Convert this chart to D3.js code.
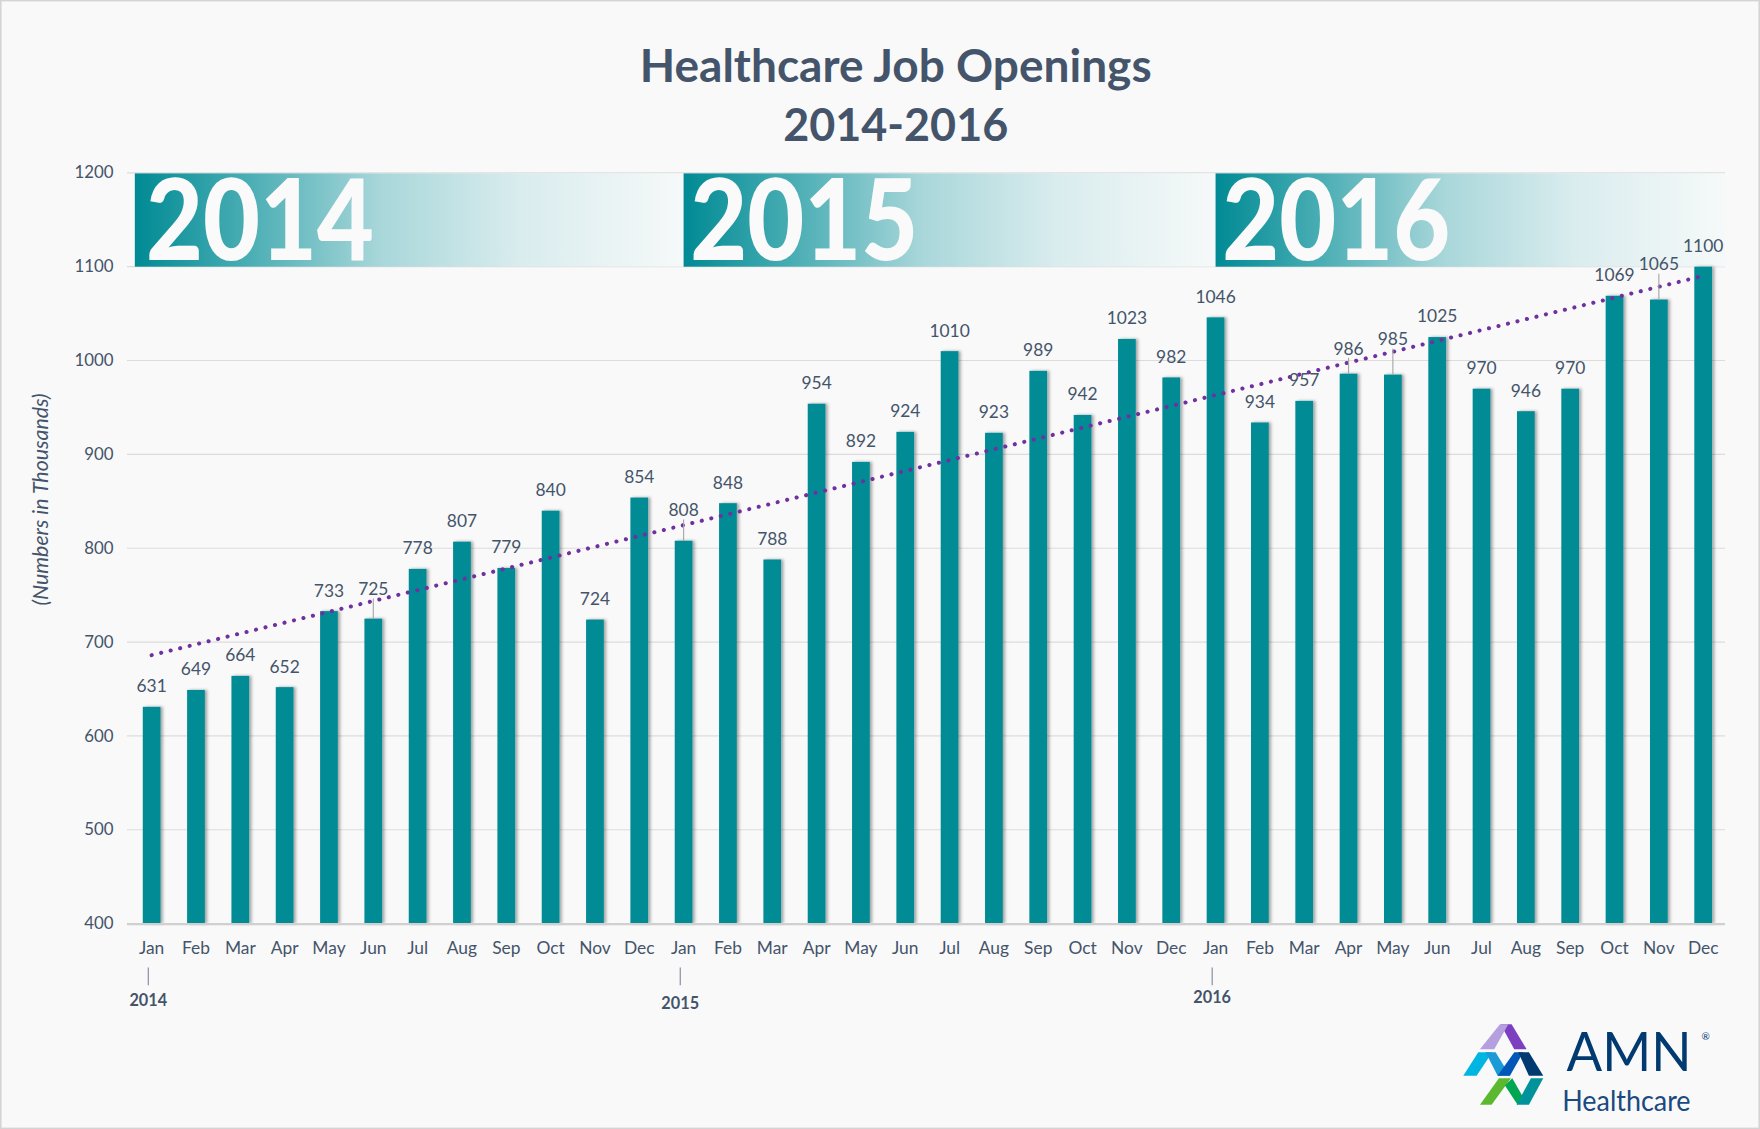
<!DOCTYPE html>
<html>
  <head>
    <meta charset="utf-8">
    <script src="https://cdn.jsdelivr.net/npm/d3@7/dist/d3.min.js"></script>
    <style>
      body { margin: 0; background: #f9f9f9; }
      text { font-family: Lato, "Open Sans", sans-serif; }
    </style>
  </head>
  <body>
    <script>
        // data (numbers in thousands)
        var months = ["Jan", "Feb", "Mar", "Apr", "May", "Jun", "Jul", "Aug", "Sep", "Oct", "Nov", "Dec"];
        var years = ["2014", "2015", "2016"];
        var jobs2014 = [631, 649, 664, 652, 733, 725, 778, 807, 779, 840, 724, 854];
        var jobs2015 = [808, 848, 788, 954, 892, 924, 1010, 923, 989, 942, 1023, 982];
        var jobs2016 = [1046, 934, 957, 986, 985, 1025, 970, 946, 970, 1069, 1065, 1100];
        var yTicks = [400, 500, 600, 700, 800, 900, 1000, 1100, 1200];

        // flatten into one series
        var series = [];
        [jobs2014, jobs2015, jobs2016].forEach(function(arr, yi) {
            arr.forEach(function(v, mi) {
                series.push({ i: yi * 12 + mi, year: years[yi], month: months[mi], value: v });
            });
        });

        // drawing is done in the picture's own units, then scaled to the window
        var W = 1568, H = 1006;
        var textCol = "#44546a",
            barCol = "#028b95",
            trendCol = "#7030a0";

        var svg = d3.select("body").append("svg")
            .attr("width", 1760)
            .attr("height", 1129)
            .attr("viewBox", "0 0 " + W + " " + H);

        var defs = svg.append("defs");

        var grad = defs.append("linearGradient").attr("id", "banner")
            .attr("x1", "0%").attr("x2", "100%").attr("y1", "0%").attr("y2", "0%");
        grad.append("stop").attr("offset", "0%").attr("stop-color", "#008a94");
        grad.append("stop").attr("offset", "22%").attr("stop-color", "#4fb0b6");
        grad.append("stop").attr("offset", "45%").attr("stop-color", "#a9d7da");
        grad.append("stop").attr("offset", "70%").attr("stop-color", "#d9ecee");
        grad.append("stop").attr("offset", "100%").attr("stop-color", "#f6f9f9");

        var shadow = defs.append("filter").attr("id", "shadow")
            .attr("x", "-50%").attr("y", "-5%").attr("width", "200%").attr("height", "110%");
        shadow.append("feDropShadow")
            .attr("dx", 2).attr("dy", 0).attr("stdDeviation", 1.6)
            .attr("flood-color", "#000").attr("flood-opacity", 0.35);

        // background + frame
        svg.append("rect")
            .attr("x", 0.5).attr("y", 0.5).attr("width", W - 1).attr("height", H - 1)
            .attr("fill", "#f9f9f9").attr("stroke", "#d4d4d4").attr("stroke-width", 1.5);

        // title
        svg.append("text")
            .attr("x", 798).attr("y", 73)
            .attr("text-anchor", "middle")
            .attr("font-size", 41).attr("font-weight", "bold")
            .attr("fill", textCol)
            .text("Healthcare Job Openings");
        svg.append("text")
            .attr("x", 798).attr("y", 126)
            .attr("text-anchor", "middle")
            .attr("font-size", 40).attr("font-weight", "bold")
            .attr("fill", textCol)
            .text("2014-2016");

        // scales
        var x = d3.scaleBand()
            .domain(series.map(function(d) { return d.i; }))
            .range([115.25, 1537.25])
            .paddingInner(0.6)
            .paddingOuter(0.3);

        var y = d3.scaleLinear()
            .domain([400, 1200])
            .range([823, 154]);

        var cx = function(i) { return x(i) + x.bandwidth() / 2; };

        // gridlines
        svg.append("g").selectAll("line")
            .data(yTicks.slice(1))
            .enter().append("line")
            .attr("x1", 113).attr("x2", 1537)
            .attr("y1", function(d) { return y(d); })
            .attr("y2", function(d) { return y(d); })
            .attr("stroke", "#dcdcdc").attr("stroke-width", 1);

        // year banners between 1100 and 1200, each starting at its January
        var bannerX = function(k) { return k === 0 ? 120 : cx(k * 12); };
        var banner = svg.append("g").selectAll("g")
            .data(years)
            .enter().append("g");
        banner.append("rect")
            .attr("x", function(d, k) { return bannerX(k); })
            .attr("y", y(1200) + 0.5)
            .attr("width", function(d, k) {
                var x1 = k < 2 ? bannerX(k + 1) : 1537;
                return x1 - bannerX(k);
            })
            .attr("height", y(1100) - y(1200) - 0.5)
            .attr("fill", "url(#banner)");
        banner.append("text")
            .attr("x", function(d, k) { return bannerX(k) + (k === 0 ? 10 : 6); })
            .attr("y", 232)
            .attr("font-size", 100)
            .attr("font-weight", 900)
            .attr("fill", "#fafafa")
            .attr("textLength", 203)
            .attr("lengthAdjust", "spacingAndGlyphs")
            .text(function(d) { return d; });

        // y axis labels
        svg.append("g").selectAll("text")
            .data(yTicks)
            .enter().append("text")
            .attr("x", 101)
            .attr("y", function(d) { return y(d) + 5; })
            .attr("text-anchor", "end")
            .attr("font-size", 15)
            .attr("fill", textCol)
            .text(function(d) { return d; });

        svg.append("text")
            .attr("transform", "translate(43,445) rotate(-90)")
            .attr("text-anchor", "middle")
            .attr("font-size", 19)
            .attr("font-style", "italic")
            .attr("fill", textCol)
            .text("(Numbers in Thousands)");

        // bars
        svg.append("g").selectAll("rect")
            .data(series)
            .enter().append("rect")
            .attr("x", function(d) { return x(d.i); })
            .attr("width", x.bandwidth())
            .attr("y", function(d) { return y(d.value); })
            .attr("height", function(d) { return y(400) - y(d.value); })
            .attr("fill", barCol)
            .attr("filter", "url(#shadow)");

        // x axis line
        svg.append("line")
            .attr("x1", 113).attr("x2", 1537)
            .attr("y1", 823.5).attr("y2", 823.5)
            .attr("stroke", "#d0d0d0").attr("stroke-width", 2);

        // month labels
        svg.append("g").selectAll("text")
            .data(series)
            .enter().append("text")
            .attr("x", function(d) { return cx(d.i); })
            .attr("y", 850)
            .attr("text-anchor", "middle")
            .attr("font-size", 15.5)
            .attr("fill", textCol)
            .text(function(d) { return d.month; });

        // year ticks and labels
        var yearAxis = svg.append("g").selectAll("g")
            .data(years)
            .enter().append("g");
        yearAxis.append("line")
            .attr("x1", function(d, k) { return cx(k * 12) - 3; })
            .attr("x2", function(d, k) { return cx(k * 12) - 3; })
            .attr("y1", 862).attr("y2", 878)
            .attr("stroke", "#7f8a99").attr("stroke-width", 1);
        yearAxis.append("text")
            .attr("x", function(d, k) { return cx(k * 12) - 3; })
            .attr("y", function(d, k) { return [896, 899, 894][k]; })
            .attr("text-anchor", "middle")
            .attr("font-size", 14.5)
            .attr("font-weight", "bold")
            .attr("fill", textCol)
            .text(function(d) { return d; });

        // linear trendline (least squares over the series)
        var n = series.length,
            mx = d3.mean(series, function(d) { return d.i; }),
            my = d3.mean(series, function(d) { return d.value; });
        var slope = d3.sum(series, function(d) { return (d.i - mx) * (d.value - my); }) /
                    d3.sum(series, function(d) { return (d.i - mx) * (d.i - mx); });
        var icept = my - slope * mx;
        var ends = [series[0].i, series[n - 1].i];

        svg.append("path")
            .datum(ends)
            .attr("d", d3.line()
                .x(function(i) { return cx(i); })
                .y(function(i) { return y(icept + slope * i); }))
            .attr("fill", "none")
            .attr("stroke", trendCol)
            .attr("stroke-width", 3.6)
            .attr("stroke-linecap", "round")
            .attr("stroke-dasharray", "0.1 8.6");

        // data labels; a few were nudged up in the original with leader lines
        var lift = { 5: 8, 12: 9, 27: 4, 28: 13, 34: 13 };
        var labels = svg.append("g").selectAll("g")
            .data(series)
            .enter().append("g");
        labels.filter(function(d) { return lift[d.i]; })
            .append("line")
            .attr("x1", function(d) { return cx(d.i); })
            .attr("x2", function(d) { return cx(d.i); })
            .attr("y1", function(d) { return y(d.value); })
            .attr("y2", function(d) { return y(d.value) - 10 - lift[d.i]; })
            .attr("stroke", "#a6a6a6").attr("stroke-width", 1);
        labels.append("text")
            .attr("x", function(d) { return cx(d.i); })
            .attr("y", function(d) { return y(d.value) - 13 - (lift[d.i] || 0); })
            .attr("text-anchor", "middle")
            .attr("font-size", 15.5)
            .attr("fill", textCol)
            .text(function(d) { return d.value; });

        // AMN Healthcare logo (drawn in zoom units, then scaled down)
        var logo = svg.append("g")
            .attr("transform", "translate(1296.3,904.3) scale(0.297)");
        var shapes = [
            ["#7b3fbf", "137,28 170,28 215,103 178,103"],
            ["#b59fdf", "135,28 160,28 118,103 75,103"],
            ["#00b5e2", "70,112 112,112 65,183 25,183"],
            ["#1a9ad6", "92,112 122,112 165,183 128,183"],
            ["#0057b8", "178,112 205,112 165,183 128,183"],
            ["#003a70", "190,112 222,112 265,183 222,183"],
            ["#5cb82e", "132,190 168,190 110,270 75,270"],
            ["#00a651", "150,212 172,190 205,248 188,270"],
            ["#00939b", "228,190 265,190 222,270 185,270"]
        ];
        logo.selectAll("polygon")
            .data(shapes)
            .enter().append("polygon")
            .attr("points", function(d) { return d[1]; })
            .attr("fill", function(d) { return d[0]; });
        logo.append("text")
            .attr("x", 335).attr("y", 168)
            .attr("font-size", 164)
            .attr("fill", "#003a70")
            .attr("textLength", 375)
            .attr("lengthAdjust", "spacingAndGlyphs")
            .text("AMN");
        logo.append("text")
            .attr("x", 740).attr("y", 75)
            .attr("font-size", 30)
            .attr("fill", "#003a70")
            .text("®");
        logo.append("text")
            .attr("x", 322).attr("y", 288)
            .attr("font-size", 84)
            .attr("fill", "#1a4a80")
            .attr("textLength", 385)
            .attr("lengthAdjust", "spacingAndGlyphs")
            .text("Healthcare");
    </script>
  </body>
</html>
